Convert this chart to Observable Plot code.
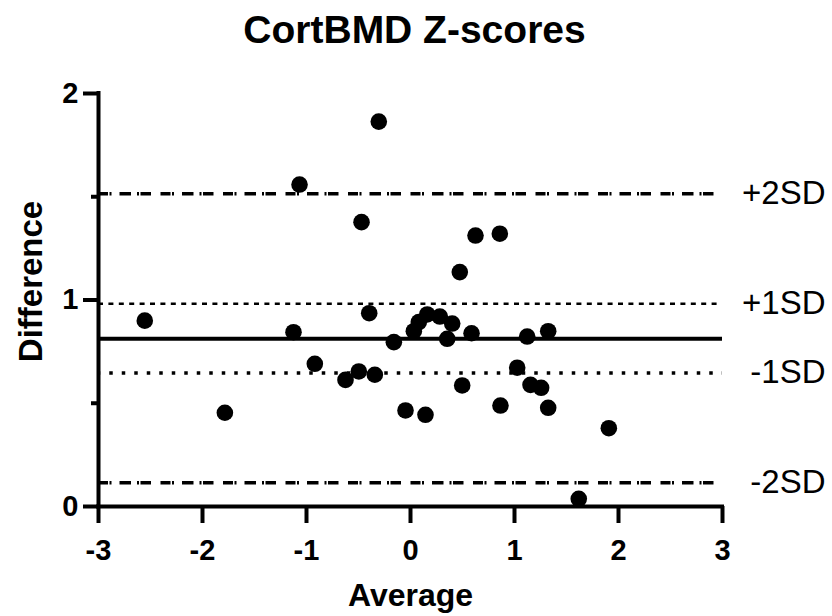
<!DOCTYPE html>
<html>
<head>
<meta charset="utf-8">
<script src="https://cdn.jsdelivr.net/npm/d3@7"></script>
<script src="https://cdn.jsdelivr.net/npm/@observablehq/plot@0.6"></script>
<style>
  html, body { margin: 0; padding: 0; background: #fff; }
  #chart { width: 832px; height: 616px; }
</style>
</head>
<body>
<div id="chart"></div>
<script>
// ---- data ----
const chartTitle = "CortBMD Z-scores";
const xLabel = "Average";
const yLabel = "Difference";

const avg  = [-2.555, -1.785, -1.125, -1.067, -0.471, -0.305, -0.920, -0.397, -0.625, -0.497,
              -0.343, -0.160, -0.048, 0.144, 0.032, 0.080, 0.161, 0.282, 0.401, 0.353,
              0.587, 0.497, 0.865, 1.122, 1.324, 1.026, 1.154, 1.256, 1.324, 1.907,
              0.625, 0.859, 0.474, 1.618];
const diff = [0.900, 0.454, 0.844, 1.559, 1.377, 1.864, 0.691, 0.936, 0.613, 0.654,
              0.638, 0.796, 0.465, 0.444, 0.849, 0.893, 0.930, 0.920, 0.886, 0.812,
              0.839, 0.586, 0.489, 0.823, 0.849, 0.672, 0.589, 0.575, 0.478, 0.379,
              1.312, 1.321, 1.135, 0.037];

const meanDiff = 0.812;
const sdLabels = ["+2SD", "+1SD", "-1SD", "-2SD"];
const sdLevels = [1.514, 0.982, 0.647, 0.115];

const xTicks = [-3, -2, -1, 0, 1, 2, 3];
const yTicks = [0, 1, 2];
const yMinorTicks = [0.5, 1.5];

// ---- tables built from the arrays ----
const points = avg.map((a, i) => ({avg: a, diff: diff[i]}));
const sdLines = sdLabels.map((l, i) => ({label: l, level: sdLevels[i]}));

const fmt = d => (d < 0 ? "-" + Math.abs(d) : String(d));

const chart = Plot.plot({
  width: 832,
  height: 616,
  marginLeft: 98,
  marginRight: 110,
  marginTop: 93,
  marginBottom: 110,
  x: {domain: [-3, 3]},
  y: {domain: [0, 2]},
  style: {fontFamily: "'Liberation Sans', Arial, Helvetica, sans-serif", background: "#fff", color: "#000"},
  marks: [
    // limits of agreement (+/-2SD): dash-dot pattern
    Plot.ruleY([sdLevels[0], sdLevels[3]], {
      stroke: "#000", strokeWidth: 3.5,
      strokeDasharray: "10,1.5,2,8,11.5,6,2,1.5,10.5,9.5"
    }),
    // +1SD short dashes
    Plot.ruleY([sdLevels[1]], {stroke: "#000", strokeWidth: 2.5, strokeDasharray: "5,5.4"}),
    // -1SD dots
    Plot.ruleY([sdLevels[2]], {stroke: "#000", strokeWidth: 3.5, strokeDasharray: "3.5,9", strokeDashoffset: 1.25}),
    // mean
    Plot.ruleY([meanDiff], {stroke: "#000", strokeWidth: 4}),
    // axis lines
    Plot.ruleX([-3], {stroke: "#000", strokeWidth: 4, strokeLinecap: "square"}),
    Plot.ruleY([0], {stroke: "#000", strokeWidth: 4, strokeLinecap: "square"}),
    // axes
    Plot.axisX({ticks: xTicks, tickFormat: fmt, tickSize: 17, tickPadding: 16, strokeWidth: 4,
      fontSize: 29, fontWeight: "bold", label: null}),
    Plot.axisY({ticks: yTicks, tickFormat: fmt, tickSize: 15, tickPadding: 5, strokeWidth: 4,
      fontSize: 29, fontWeight: "bold", label: null}),
    Plot.axisY({ticks: yMinorTicks, tickSize: 7, strokeWidth: 4, fill: "none", label: null}),
    // points
    Plot.dot(points, {x: "avg", y: "diff", r: 8.3, fill: "#000"}),
    // SD labels
    Plot.text(sdLines, {y: "level", text: "label", frameAnchor: "right", textAnchor: "end",
      dx: 103, fontSize: 33, fill: "#000"}),
    // title and axis titles
    Plot.text([chartTitle], {text: d => d, frameAnchor: "top", lineAnchor: "top", dy: -78, dx: 4,
      fontSize: 39, fontWeight: "bold", fill: "#000"}),
    Plot.text([xLabel], {text: d => d, frameAnchor: "bottom", lineAnchor: "top", dy: 77,
      fontSize: 32, fontWeight: "bold", fill: "#000"}),
    Plot.text([yLabel], {text: d => d, frameAnchor: "left", rotate: -90, textAnchor: "middle",
      lineAnchor: "middle", dx: -67, dy: -18.5, fontSize: 33, fontWeight: "bold", fill: "#000"})
  ]
});
document.getElementById("chart").appendChild(chart);
</script>
</body>
</html>
